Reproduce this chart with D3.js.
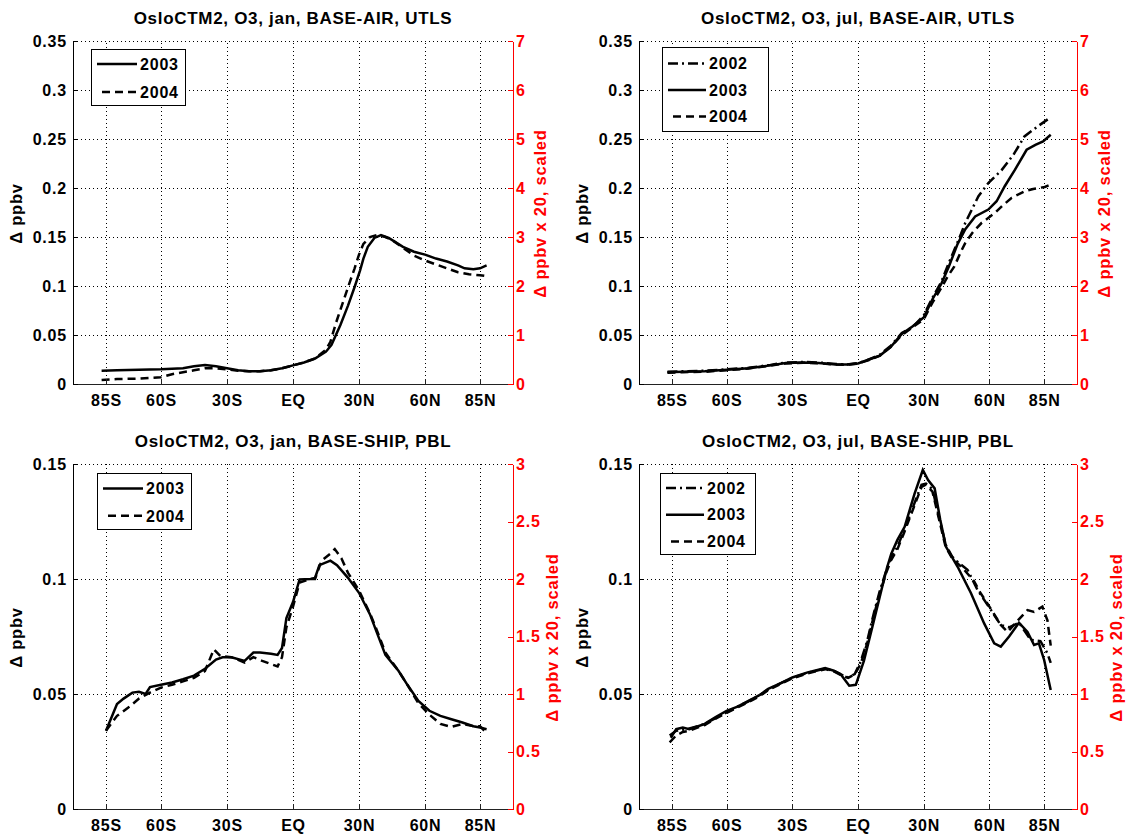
<!DOCTYPE html>
<html>
<head>
<meta charset="utf-8">
<script src="https://cdn.jsdelivr.net/npm/d3@7"></script>
<style>
html,body{margin:0;padding:0;background:#fff}
svg{display:block}
text{font-family:"Liberation Sans",Arial,Helvetica,sans-serif;font-weight:bold}
</style>
</head>
<body>
<svg id="chart" width="1128" height="834"></svg>
<script>
// x axis: latitude
var latTicks=[-85,-60,-30,0,30,60,85]
var latLabels=['85S','60S','30S','EQ','30N','60N','85N']
var utlsTicks=[0,0.05,0.1,0.15,0.2,0.25,0.3,0.35]
var pblTicks=[0,0.05,0.1,0.15]
var utlsScaledTicks=[0,1,2,3,4,5,6,7]
var pblScaledTicks=[0,0.5,1,1.5,2,2.5,3]

// [lat, delta ppbv]
var janUtls2003=[[-87,0.0135],[-80,0.014],[-70,0.0145],[-60,0.015],[-50,0.016],[-45,0.018],[-40,0.0195],[-35,0.018],[-30,0.016],[-25,0.014],[-20,0.013],[-15,0.013],[-10,0.014],[-5,0.016],[0,0.019],[5,0.022],[10,0.026],[15,0.033],[17.5,0.040],[21.5,0.060],[25,0.080],[28,0.099],[30.5,0.116],[32,0.128],[34,0.140],[37,0.149],[40,0.152],[43.5,0.149],[50,0.140],[55,0.135],[60,0.132],[65,0.128],[70,0.125],[75,0.121],[78,0.118],[82,0.117],[85,0.118],[88,0.121]]
var janUtls2004=[[-87,0.004],[-80,0.005],[-70,0.0055],[-60,0.007],[-55,0.010],[-50,0.012],[-45,0.014],[-40,0.016],[-35,0.016],[-30,0.015],[-25,0.0135],[-20,0.013],[-15,0.013],[-10,0.014],[-5,0.016],[0,0.019],[5,0.022],[10,0.026],[15,0.035],[17,0.043],[19.5,0.062],[22.5,0.082],[25.5,0.102],[28,0.118],[30,0.132],[32,0.143],[35,0.150],[38,0.152],[42,0.150],[45,0.147],[50,0.139],[55,0.131],[60,0.126],[65,0.122],[70,0.118],[75,0.114],[80,0.112],[85,0.111],[88,0.110]]

var julUtls2002=[[-87,0.0125],[-80,0.013],[-70,0.0135],[-60,0.015],[-50,0.0165],[-40,0.0195],[-33,0.022],[-25,0.0225],[-18,0.022],[-10,0.0205],[-5,0.020],[0,0.0212],[5,0.025],[10,0.030],[15,0.039],[20,0.052],[25,0.058],[30,0.070],[34,0.088],[38,0.104],[41,0.121],[44,0.137],[47,0.153],[49,0.1645],[55,0.1916],[59.5,0.205],[65.5,0.218],[71,0.234],[76,0.2526],[82,0.2628],[87,0.2706]]
var julUtls2003=[[-87,0.012],[-80,0.0125],[-70,0.013],[-60,0.0145],[-50,0.016],[-40,0.019],[-33,0.0215],[-25,0.022],[-18,0.0215],[-10,0.020],[-5,0.0198],[0,0.021],[5,0.025],[10,0.029],[15,0.038],[20,0.051],[25,0.059],[30,0.068],[34,0.0865],[38,0.102],[41.5,0.120],[45.5,0.143],[49,0.158],[53.5,0.171],[59.5,0.178],[63.3,0.1865],[67,0.2018],[71.7,0.2187],[77,0.239],[81,0.244],[84.5,0.2475],[88,0.2543]]
var julUtls2004=[[-87,0.0115],[-80,0.012],[-70,0.0125],[-60,0.014],[-50,0.0158],[-40,0.0188],[-33,0.021],[-25,0.0218],[-18,0.0212],[-10,0.0198],[-5,0.0196],[0,0.0208],[5,0.0245],[10,0.029],[15,0.038],[20,0.050],[25,0.058],[30,0.066],[34,0.083],[38,0.098],[41,0.110],[44,0.120],[47,0.135],[49,0.144],[52.5,0.155],[56.5,0.1645],[62.6,0.1747],[66,0.182],[70.2,0.190],[76.2,0.1967],[80,0.199],[85.3,0.2011],[88,0.2035]]

var janPbl2003=[[-85,0.034],[-82,0.041],[-80,0.0456],[-77,0.048],[-73,0.0506],[-70,0.051],[-67,0.050],[-65,0.053],[-60,0.054],[-55,0.055],[-50,0.0564],[-45,0.058],[-40,0.061],[-35,0.065],[-32,0.066],[-28,0.066],[-22,0.0644],[-18,0.068],[-15,0.068],[-10,0.0675],[-7,0.067],[-5,0.070],[-3,0.083],[0,0.090],[3,0.0998],[8,0.100],[10,0.1005],[12,0.106],[17,0.108],[20,0.106],[25,0.1005],[30,0.094],[35,0.0846],[38,0.077],[42,0.067],[48,0.060],[52,0.054],[57,0.047],[62,0.0427],[67,0.0405],[72,0.039],[77,0.0376],[82,0.036],[85,0.0354],[88,0.0347]]
var janPbl2004=[[-85,0.034],[-80,0.0405],[-75,0.044],[-70,0.048],[-65,0.0506],[-60,0.0528],[-55,0.054],[-50,0.0555],[-45,0.057],[-40,0.060],[-36,0.0694],[-33,0.0665],[-28,0.066],[-22,0.0637],[-18,0.066],[-14,0.0644],[-10,0.063],[-7,0.062],[-5,0.066],[-3,0.079],[0,0.088],[3,0.0985],[8,0.100],[10,0.100],[13,0.108],[17,0.111],[19,0.113],[22,0.109],[25,0.1027],[30,0.095],[35,0.085],[38,0.078],[42,0.068],[48,0.060],[52,0.054],[57,0.046],[62,0.041],[67,0.037],[72,0.0357],[77,0.037],[82,0.036],[85,0.036],[88,0.033]]

var julPbl2002=[[-86,0.032],[-83,0.034],[-80,0.0345],[-77,0.035],[-73,0.036],[-70,0.037],[-65,0.0395],[-60,0.042],[-55,0.0445],[-50,0.0468],[-45,0.0495],[-41,0.052],[-35,0.0548],[-30,0.057],[-23,0.0592],[-15,0.061],[-11,0.060],[-8,0.0585],[-4.5,0.0572],[-1.5,0.0587],[1.2,0.064],[4.2,0.073],[7.2,0.085],[10,0.095],[13,0.104],[15,0.109],[18,0.114],[21,0.121],[25.8,0.133],[29,0.141],[31,0.1415],[34,0.139],[37,0.127],[40,0.115],[43,0.1097],[46,0.107],[50,0.104],[54.6,0.0952],[60.7,0.0865],[65.2,0.080],[69,0.079],[73.5,0.081],[78.9,0.0735],[83.3,0.073],[86.5,0.0677],[88,0.0635]]
var julPbl2003=[[-85.5,0.031],[-83,0.0347],[-80,0.0354],[-77,0.0347],[-73,0.036],[-70,0.037],[-65,0.040],[-60,0.0427],[-55,0.0445],[-50,0.047],[-45,0.0495],[-41,0.0522],[-35,0.0548],[-30,0.0572],[-23,0.0594],[-15,0.0613],[-11,0.0601],[-8,0.0587],[-4,0.0536],[-1,0.054],[2.7,0.0644],[7.2,0.0817],[10.2,0.0933],[13.2,0.1048],[15.2,0.111],[18,0.117],[21.3,0.1227],[25.8,0.137],[29.6,0.1474],[32,0.143],[35,0.1394],[37.5,0.126],[40.2,0.114],[45.5,0.1053],[51.6,0.0938],[57.6,0.0807],[62.2,0.072],[65.2,0.0706],[69,0.075],[73.5,0.081],[77.4,0.077],[80.4,0.0713],[82.6,0.072],[85,0.0648],[88,0.0517]]
var julPbl2004=[[-86,0.029],[-83,0.032],[-80,0.0335],[-77,0.034],[-73,0.0355],[-70,0.0365],[-65,0.0393],[-60,0.0418],[-55,0.0442],[-50,0.0465],[-45,0.049],[-41,0.0517],[-35,0.0545],[-30,0.0568],[-23,0.059],[-15,0.0608],[-11,0.0598],[-8,0.0583],[-4.5,0.057],[-1.5,0.0585],[1.2,0.063],[4.2,0.072],[7.2,0.084],[10,0.094],[13,0.103],[15,0.108],[18,0.113],[21,0.120],[25.8,0.132],[29,0.140],[31,0.141],[34,0.138],[37,0.126],[40,0.114],[43,0.109],[48.5,0.104],[53,0.099],[56,0.0938],[60,0.088],[65.2,0.080],[68.3,0.077],[73,0.082],[77.4,0.0865],[80.4,0.0857],[84.2,0.088],[86.5,0.082],[88,0.071]]

var dash={solid:null,dashed:'8,5',dashdot:'10,4,2,4'}

var panels=[
    {title:'OsloCTM2, O3, jan, BASE-AIR, UTLS',x0:73,x1:513,y0:41,y1:384,yMax:0.35,yTicks:utlsTicks,y2Ticks:utlsScaledTicks,
     series:[{name:'2003',data:janUtls2003,style:'solid'},{name:'2004',data:janUtls2004,style:'dashed'}],
     leg:{dx:18,dy:8,w:94,row:28,first:15,line:40}},
    {title:'OsloCTM2, O3, jul, BASE-AIR, UTLS',x0:639,x1:1077,y0:41,y1:384,yMax:0.35,yTicks:utlsTicks,y2Ticks:utlsScaledTicks,
     series:[{name:'2002',data:julUtls2002,style:'dashdot'},{name:'2003',data:julUtls2003,style:'solid'},{name:'2004',data:julUtls2004,style:'dashed'}],
     leg:{dx:23,dy:6,w:106,row:26.5,first:16.5,line:38}},
    {title:'OsloCTM2, O3, jan, BASE-SHIP, PBL',x0:73,x1:513,y0:464,y1:809,yMax:0.15,yTicks:pblTicks,y2Ticks:pblScaledTicks,
     series:[{name:'2003',data:janPbl2003,style:'solid'},{name:'2004',data:janPbl2004,style:'dashed'}],
     leg:{dx:24,dy:9,w:94,row:27.3,first:15.5,line:40}},
    {title:'OsloCTM2, O3, jul, BASE-SHIP, PBL',x0:639,x1:1077,y0:464,y1:809,yMax:0.15,yTicks:pblTicks,y2Ticks:pblScaledTicks,
     series:[{name:'2002',data:julPbl2002,style:'dashdot'},{name:'2003',data:julPbl2003,style:'solid'},{name:'2004',data:julPbl2004,style:'dashed'}],
     leg:{dx:21,dy:9,w:95,row:26.7,first:15,line:38}}
]

var svg=d3.select('#chart')
panels.forEach(p=>drawPanel(svg,p))

function fmt(v){return String(+v.toFixed(2))}

function drawPanel(svg,p)
{
    var g=svg.append('g')
    var x=d3.scaleLinear().domain([-100,100]).range([p.x0,p.x1]),
        y=d3.scaleLinear().domain([0,p.yMax]).range([p.y1,p.y0]),
        y2=d3.scaleLinear().domain([0,p.yMax*20]).range([p.y1,p.y0])
    var w=p.x1-p.x0, h=p.y1-p.y0

    // dotted grid
    g.append('g')
        .attr('transform',`translate(0,${p.y1})`)
        .call(d3.axisBottom(x).tickValues(latTicks).tickSize(-h).tickFormat(''))
        .call(s=>{
            s.select('.domain').remove()
            s.selectAll('line').attr('stroke','#000').attr('stroke-dasharray','1,3').attr('shape-rendering','crispEdges')
        })
    g.append('g')
        .attr('transform',`translate(${p.x0},0)`)
        .call(d3.axisLeft(y).tickValues(p.yTicks.slice(1)).tickSize(-w).tickFormat(''))
        .call(s=>{
            s.select('.domain').remove()
            s.selectAll('line').attr('stroke','#000').attr('stroke-dasharray','1,3').attr('shape-rendering','crispEdges')
        })

    // curves
    var line=d3.line().x(d=>x(d[0])).y(d=>y(d[1]))
    g.append('g')
        .selectAll('path')
        .data(p.series)
        .join('path')
        .attr('d',d=>line(d.data))
        .attr('fill','none')
        .attr('stroke','#000')
        .attr('stroke-width',2.5)
        .attr('stroke-dasharray',d=>dash[d.style])

    // axes
    var ax=g.append('g')
        .attr('transform',`translate(0,${p.y1})`)
        .call(d3.axisBottom(x).tickValues(latTicks).tickFormat((d,i)=>latLabels[i]).tickSizeInner(-5).tickSizeOuter(0).tickPadding(11))
    var ay=g.append('g')
        .attr('transform',`translate(${p.x0},0)`)
        .call(d3.axisLeft(y).tickValues(p.yTicks).tickFormat(fmt).tickSizeInner(-5).tickSizeOuter(0).tickPadding(6))
    var ay2=g.append('g')
        .attr('transform',`translate(${p.x1},0)`)
        .call(d3.axisRight(y2).tickValues(p.y2Ticks).tickFormat(fmt).tickSizeInner(-5).tickSizeOuter(0).tickPadding(3))
    ;[ax,ay,ay2].forEach(a=>{
        a.selectAll('text').attr('font-size',16).attr('letter-spacing','0.8px')
            .attr('font-family','"Liberation Sans",Arial,sans-serif').attr('font-weight','bold')
        a.selectAll('path,line').attr('shape-rendering','crispEdges')
    })
    ax.selectAll('text').attr('fill','#000')
    ax.selectAll('path,line').attr('stroke','#222')
    ay.selectAll('text').attr('fill','#000')
    ay.selectAll('path,line').attr('stroke','#000')
    ay2.selectAll('text').attr('fill','#ff0000')
    ay2.selectAll('path,line').attr('stroke','#ff0000')

    // title and axis labels
    g.append('text')
        .attr('x',(p.x0+p.x1)/2)
        .attr('y',p.y0-17)
        .attr('text-anchor','middle')
        .attr('font-size',17)
        .attr('letter-spacing','0.7px')
        .text(p.title)
    var cy=(p.y0+p.y1)/2+1
    g.append('text')
        .attr('transform',`translate(${p.x0-57},${cy}) rotate(-90)`)
        .attr('text-anchor','middle')
        .attr('dy','0.35em')
        .attr('font-size',16.5)
        .attr('letter-spacing','0.8px')
        .text('\u0394 ppbv')
    g.append('text')
        .attr('transform',`translate(${p.x1+(p.yMax<0.2?39:27)},${cy}) rotate(-90)`)
        .attr('text-anchor','middle')
        .attr('dy','0.35em')
        .attr('font-size',16.5)
        .attr('letter-spacing','0.8px')
        .attr('fill','#ff0000')
        .text('\u0394 ppbv x 20, scaled')

    // legend
    var L=p.leg, n=p.series.length
    var lg=g.append('g').attr('transform',`translate(${p.x0+L.dx},${p.y0+L.dy})`)
    lg.append('rect')
        .attr('x',0.5).attr('y',0.5)
        .attr('width',L.w).attr('height',L.first*2+L.row*(n-1)-2)
        .attr('fill','#fff').attr('stroke','#000').attr('stroke-width',1)
        .attr('shape-rendering','crispEdges')
    var rows=lg.selectAll('g.row').data(p.series).join('g')
        .attr('class','row')
        .attr('transform',(d,i)=>`translate(0,${L.first+i*L.row})`)
    rows.append('line')
        .attr('x1',6).attr('x2',6+L.line)
        .attr('stroke','#000').attr('stroke-width',2.5)
        .attr('stroke-dasharray',d=>dash[d.style])
        .attr('stroke-dashoffset',d=>d.style=='dashed'?8:0)
    rows.append('text')
        .attr('x',L.line+9)
        .attr('dy','0.36em')
        .attr('font-size',16)
        .attr('letter-spacing','0.8px')
        .text(d=>d.name)
}
</script>
</body>
</html>
